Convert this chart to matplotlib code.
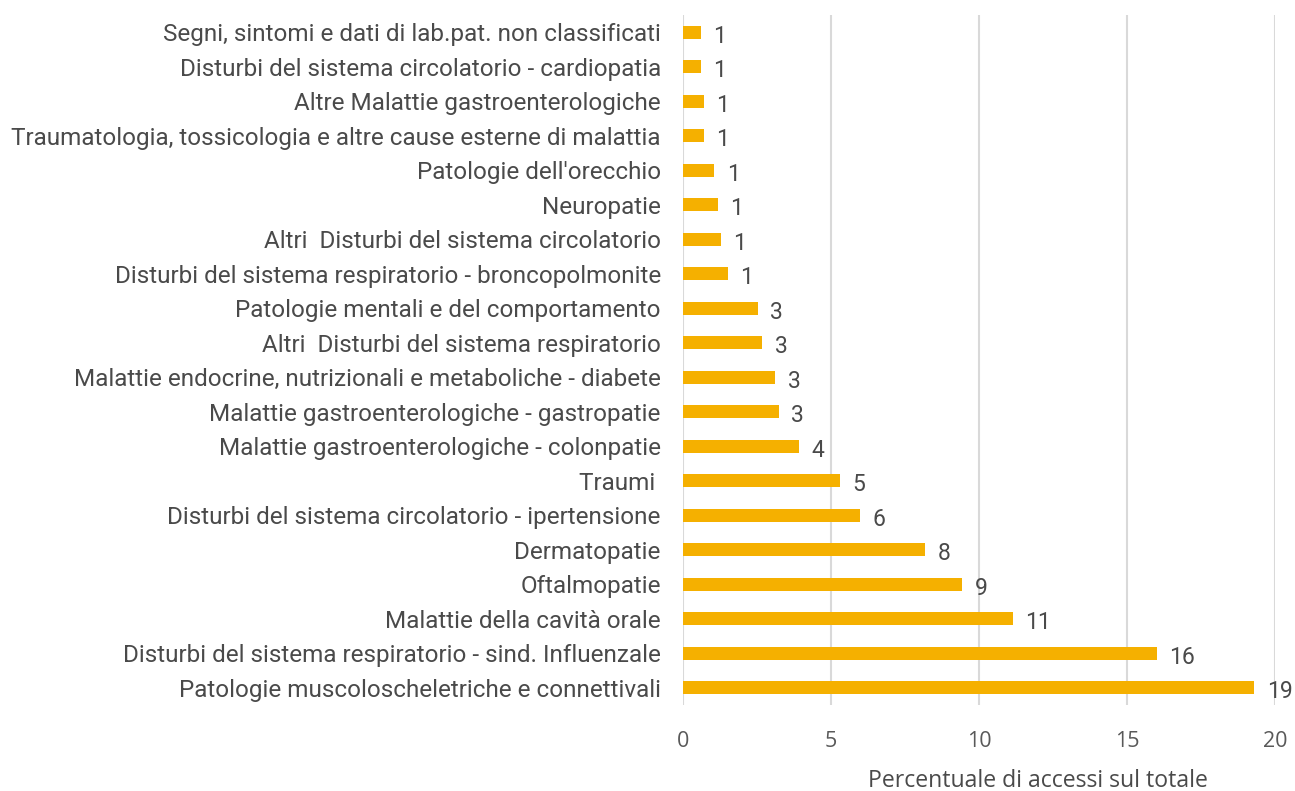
import matplotlib.pyplot as plt

categorie = [
    "Patologie muscoloscheletriche e connettivali",
    "Disturbi del sistema respiratorio - sind. Influenzale",
    "Malattie della cavità orale",
    "Oftalmopatie",
    "Dermatopatie",
    "Disturbi del sistema circolatorio - ipertensione",
    "Traumi ",
    "Malattie gastroenterologiche - colonpatie",
    "Malattie gastroenterologiche - gastropatie",
    "Malattie endocrine, nutrizionali e metaboliche - diabete",
    "Altri  Disturbi del sistema respiratorio",
    "Patologie mentali e del comportamento",
    "Disturbi del sistema respiratorio - broncopolmonite",
    "Altri  Disturbi del sistema circolatorio",
    "Neuropatie",
    "Patologie dell'orecchio",
    "Traumatologia, tossicologia e altre cause esterne di malattia",
    "Altre Malattie gastroenterologiche",
    "Disturbi del sistema circolatorio - cardiopatia",
    "Segni, sintomi e dati di lab.pat. non classificati",
]
percentuali = [19.3, 16.0, 11.15, 9.43, 8.18, 5.98, 5.3, 3.92, 3.24, 3.11,
               2.67, 2.53, 1.52, 1.28, 1.18, 1.05, 0.71, 0.71, 0.61, 0.61]
etichette = ["19", "16", "11", "9", "8", "6", "5", "4", "3", "3",
             "3", "3", "1", "1", "1", "1", "1", "1", "1", "1"]

fig = plt.figure(figsize=(12.95, 7.91), dpi=100)
ax = fig.add_axes([683/1295, 1 - 705/791, (1275 - 683)/1295, (705 - 15)/791])

y = list(range(len(categorie)))
ax.barh(y, percentuali, height=0.38, color="#F5B000", zorder=3)
for i, v in enumerate(percentuali):
    ax.annotate(etichette[i], (v, y[i]), xytext=(9, -3), textcoords="offset points",
                va="center", ha="left", fontsize=16.5, color="#4a4a4a", family="Roboto")

ax.set_xlim(0, 20)
ax.set_ylim(-0.5, len(categorie) - 0.5)
ax.set_yticks(y)
ax.set_yticklabels(categorie, fontsize=17.5, color="#4a4a4a", family="Roboto")
ax.set_xticks([0, 5, 10, 15, 20])
ax.tick_params(axis="y", length=0, pad=16)
ax.tick_params(axis="x", length=0, pad=19, labelsize=15.5, labelcolor="#595959")
for lab in ax.get_xticklabels():
    lab.set_family("Open Sans")
ax.grid(axis="x", color="#d9d9d9", linewidth=1.5, zorder=0)
for s in ax.spines.values():
    s.set_visible(False)

fig.text(1038/1295, 1 - 781/791, "Percentuale di accessi sul totale", ha="center",
         va="center", fontsize=16.6, color="#4a4a4a", family="Open Sans")

fig.savefig("out.png", dpi=100)
